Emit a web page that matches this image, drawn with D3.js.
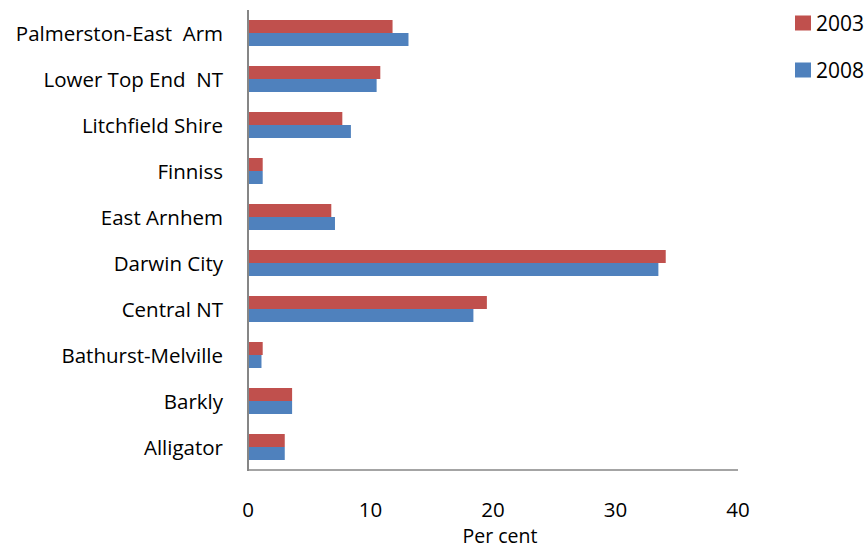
<!DOCTYPE html>
<html><head><meta charset="utf-8">
<script src="https://cdn.jsdelivr.net/npm/d3@7"></script>
<style>body{margin:0;background:#fff}svg{display:block}text{font-family:"Open Sans",sans-serif;fill:#000}</style>
</head><body><svg id="c" width="868" height="548"></svg>
<script>
const categories = ["Palmerston-East  Arm","Lower Top End  NT","Litchfield Shire","Finniss","East Arnhem","Darwin City","Central NT","Bathurst-Melville","Barkly","Alligator"];
const seriesNames = ["2003","2008"];
const values2003 = [11.8, 10.8, 7.7, 1.2, 6.8, 34.1, 19.5, 1.2, 3.6, 3.0];
const values2008 = [13.1, 10.5, 8.4, 1.2, 7.1, 33.5, 18.4, 1.1, 3.6, 3.0];
const xTicks = [0, 10, 20, 30, 40];
const colors = ["#C0504D", "#4F81BD"];

const svg = d3.select("#c");
const m = {left: 248, right: 738, top: 10, bottom: 470};
const x = d3.scaleLinear().domain([0, 40]).range([m.left, m.right]);
const y = d3.scaleBand().domain(categories).range([m.top, m.bottom]).paddingInner(0.435).paddingOuter(0.2175);
const sub = d3.scaleBand().domain(seriesNames).range([0, y.bandwidth()]);

const data = categories.map((c, i) => ({c, v: [values2003[i], values2008[i]]}));
const g = svg.append("g");
data.forEach(d => {
  seriesNames.forEach((s, j) => {
    g.append("rect")
      .attr("x", x(0) + 1)
      .attr("y", y(d.c) + sub(s))
      .attr("width", x(d.v[j]) - x(0) - 1)
      .attr("height", sub.bandwidth())
      .attr("fill", colors[j]);
  });
});

// axes lines
svg.append("line").attr("x1", m.left).attr("x2", m.left).attr("y1", m.top).attr("y2", m.bottom + 1)
  .attr("stroke", "#868686").attr("stroke-width", 2);
svg.append("line").attr("x1", m.left - 1).attr("x2", m.right).attr("y1", m.bottom).attr("y2", m.bottom)
  .attr("stroke", "#868686").attr("stroke-width", 1.5);

// category labels
svg.selectAll("text.cat").data(categories).enter().append("text")
  .attr("class", "cat")
  .attr("x", 223).attr("y", d => y(d) + y.bandwidth() / 2)
  .attr("text-anchor", "end").attr("dominant-baseline", "central")
  .style("font-size", "20.5px").style("white-space", "pre")
  .text(d => d);

// x tick labels
svg.selectAll("text.tick").data(xTicks).enter().append("text")
  .attr("x", d => x(d)).attr("y", 517)
  .attr("text-anchor", "middle").style("font-size", "20.5px").text(d => d);

svg.append("text").attr("x", 500).attr("y", 543).attr("text-anchor", "middle")
  .style("font-size", "19.5px").text("Per cent");

// legend
seriesNames.forEach((s, j) => {
  const ly = 23 + j * 47;
  svg.append("rect").attr("x", 795).attr("y", ly - 7.5).attr("width", 16).attr("height", 15).attr("fill", colors[j]);
  svg.append("text").attr("x", 816).attr("y", ly).attr("dominant-baseline", "central")
    .style("font-size", "21px").text(s);
});
</script></body></html>
